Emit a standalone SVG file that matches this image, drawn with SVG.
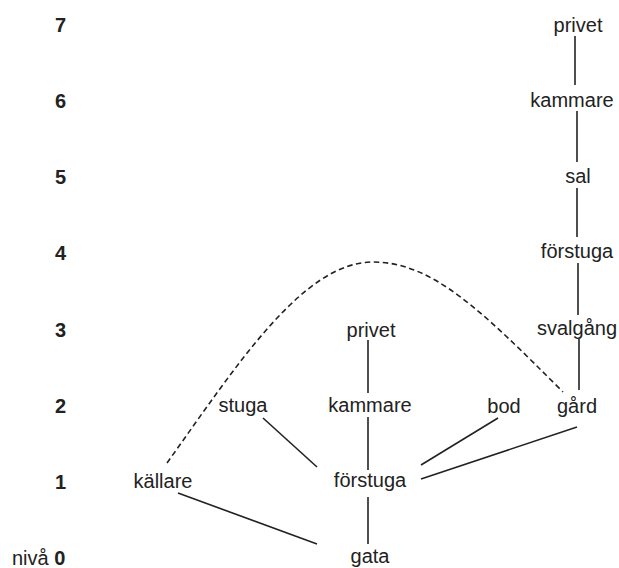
<svg xmlns="http://www.w3.org/2000/svg" width="619" height="568" viewBox="0 0 619 568">
<style>
text{font-family:"Liberation Sans",Arial,sans-serif;font-size:20px;fill:#222}
.n{text-anchor:middle}
.lv{font-weight:bold}
.c line,.c path{stroke:#222;stroke-width:1.6;fill:none}
.c .d{stroke-dasharray:5.5,3.5}
</style>
<rect width="619" height="568" fill="#fff"/>
<g id="levels">
<text class="lv" x="55" y="32">7</text>
<text class="lv" x="55" y="108">6</text>
<text class="lv" x="55" y="184">5</text>
<text class="lv" x="55" y="260">4</text>
<text class="lv" x="55" y="337">3</text>
<text class="lv" x="55" y="413">2</text>
<text class="lv" x="55" y="489">1</text>
<text x="12" y="565">nivå <tspan class="lv">0</tspan></text>
</g>
<g class="c" id="connectors">
<line x1="575" y1="36" x2="575" y2="85"/>
<line x1="577" y1="111" x2="577" y2="162"/>
<line x1="577" y1="188" x2="577" y2="237"/>
<line x1="578" y1="263" x2="578" y2="315"/>
<line x1="579" y1="339" x2="579" y2="390"/>
<line x1="368" y1="340" x2="368" y2="393"/>
<line x1="368" y1="417" x2="368" y2="470"/>
<line x1="368" y1="497" x2="368" y2="544"/>
<line x1="263" y1="418" x2="317" y2="467"/>
<line x1="498" y1="418" x2="421" y2="465"/>
<line x1="577" y1="427" x2="421" y2="479"/>
<line x1="178" y1="493" x2="317" y2="544"/>
<path class="d" d="M167,463 C237,365 303,262 373,262 C433,262 483,312 563,392"/>
</g>
<g id="n-privet7"><text class="n" x="578" y="32">privet</text></g>
<g id="n-kammare6"><text class="n" x="572" y="107">kammare</text></g>
<g id="n-sal5"><text class="n" x="578" y="183">sal</text></g>
<g id="n-forstuga4"><text class="n" x="577" y="258">förstuga</text></g>
<g id="n-svalgang3"><text class="n" x="577" y="335">svalgång</text></g>
<g id="n-privet3"><text class="n" x="371" y="337">privet</text></g>
<g id="n-stuga2"><text class="n" x="243" y="412">stuga</text></g>
<g id="n-kammare2"><text class="n" x="370" y="412">kammare</text></g>
<g id="n-bod2"><text class="n" x="504" y="413">bod</text></g>
<g id="n-gard2"><text class="n" x="577" y="413">gård</text></g>
<g id="n-kallare1"><text class="n" x="163" y="488">källare</text></g>
<g id="n-forstuga1"><text class="n" x="370" y="487">förstuga</text></g>
<g id="n-gata0"><text class="n" x="370" y="563">gata</text></g>
</svg>
